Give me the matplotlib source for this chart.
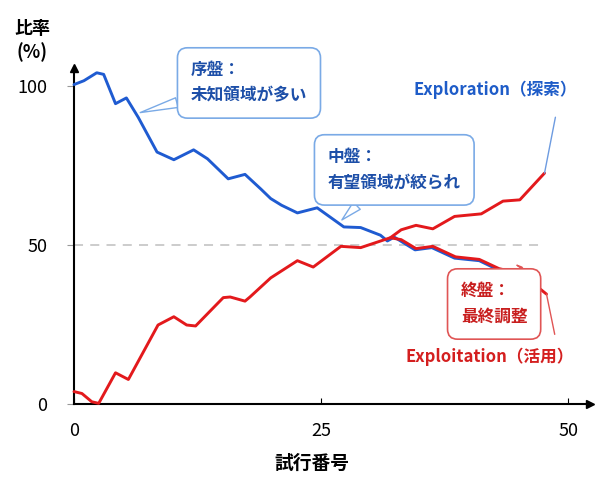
import numpy as np
import matplotlib
matplotlib.use("Agg")
import matplotlib.pyplot as plt

plt.rcParams['font.family'] = ['Noto Sans CJK JP', 'DejaVu Sans']

# Exploration (blue) - descending
explore_x = [0, 1, 2.3, 3, 4.2, 5.3, 6.5, 8.4, 10.1, 12.1, 13.5, 15.6, 17.3, 18.9, 19.9,
             21.0, 22.6, 24.6, 27.3, 29.0, 31.0, 31.7, 32.4, 34.5, 36.2, 38.5, 41.0, 43.0]
explore_y = [100.3, 101.5, 104.0, 103.5, 94.3, 96.1, 90.0, 79.1, 76.7, 79.8, 77.0, 70.7, 72.1, 67.5, 64.5,
             62.4, 60.0, 61.6, 55.6, 55.4, 53.0, 51.2, 52.4, 48.4, 49.1, 45.8, 45.0, 42.0]

# Exploitation (red) - ascending
exploit_x = [0, 0.8, 1.8, 2.5, 4.2, 5.5, 8.5, 10.1, 11.4, 12.3, 15.1, 15.8, 17.3, 17.8, 19.9,
             22.6, 24.2, 27.0, 29.0, 32.0, 33.1, 34.6, 36.3, 38.5, 41.2, 43.4, 45.1, 47.6]
exploit_y = [3.9, 3.3, 0.7, 0.2, 9.8, 7.7, 24.8, 27.4, 24.8, 24.5, 33.4, 33.6, 32.3, 33.6, 39.6,
             45.0, 43.0, 49.5, 49.1, 52.2, 54.7, 56.1, 55.0, 58.9, 59.7, 63.7, 64.1, 72.5]

# red trace drawn over the tail of the blue curve
tail_x = [32.0, 33.1, 34.6, 36.3, 38.6, 41.0, 43.0, 44.4, 46.0, 47.8]
tail_y = [52.2, 51.6, 48.8, 49.5, 46.2, 45.4, 42.5, 41.5, 39.0, 34.5]

xticks = [0, 25, 50]
yticks = [0, 50, 100]

BLUE = '#1f5bd1'
RED = '#e3191c'

fig = plt.figure(figsize=(5.97, 4.78), dpi=100)
ax = fig.add_axes([74 / 597, 74 / 478, 516 / 597, 336 / 478])
ax.set_xlim(0, 52.2)
ax.set_ylim(0, 105.5)

ax.hlines(50, 0, 47.5, colors='#c8c8c8', linestyles=(0, (5, 4)), lw=1.3, zorder=1)

line_kw = dict(lw=2.1, zorder=3, clip_on=False, solid_joinstyle='round', solid_capstyle='round')
ax.plot(explore_x, explore_y, color=BLUE, **line_kw)
ax.plot(exploit_x, exploit_y, color=RED, **line_kw)
ax.plot(tail_x, tail_y, color=RED, **line_kw)

for s in ['top', 'right']:
    ax.spines[s].set_visible(False)
for s in ['left', 'bottom']:
    ax.spines[s].set_linewidth(1.5)
ax.plot(1, 0, '>', color='k', ms=6, transform=ax.transAxes, clip_on=False)
ax.plot(0, 1, '^', color='k', ms=6, transform=ax.transAxes, clip_on=False)

ax.set_xticks(xticks)
ax.set_yticks(yticks)
ax.tick_params(axis='x', direction='in', length=4, pad=13, labelsize=13)
ax.tick_params(axis='y', direction='out', length=5, pad=14, labelsize=13, color='#999999')

fig.text(312 / 597, 1 - 463 / 478, '試行番号', ha='center', va='center',
         fontsize=13.5, fontweight='bold')
fig.text(32 / 597, 1 - 28 / 478, '比率', ha='center', va='center',
         fontsize=13, fontweight='bold')
fig.text(32 / 597, 1 - 52 / 478, '(%)', ha='center', va='center',
         fontsize=13, fontweight='bold')

# callout boxes
callouts = [
    ('序盤：\n未知領域が多い', (17.7, 100.8), (6.7, 91.5), '#7aaae6', '#1d4fa8'),
    ('中盤：\n有望領域が絞られ', (32.4, 73.5), (27.1, 57.8), '#7aaae6', '#1d4fa8'),
    ('終盤：\n最終調整', (42.5, 31.4), (45.3, 43.0), '#e05555', '#c81e1e'),
]
for txt, pos, tip, ec, tc in callouts:
    ax.annotate(txt, xy=tip, xytext=pos, ha='center', va='center', multialignment='left',
                fontsize=12, fontweight='bold', color=tc, linespacing=1.55, zorder=5,
                bbox=dict(boxstyle='round,pad=0.8,rounding_size=0.6', fc='white', ec=ec, lw=1.2),
                arrowprops=dict(arrowstyle='wedge,tail_width=0.6', fc='white', ec=ec, lw=1.0,
                                shrinkA=0, shrinkB=0))

# series labels with leader lines
ax.annotate('Exploration（探索）', xy=(exploit_x[-1], exploit_y[-1]), xytext=(42.6, 98.5),
            ha='center', va='center', fontsize=12, fontweight='bold', color='#1e5cc8',
            annotation_clip=False,
            arrowprops=dict(arrowstyle='-', color='#6d9be0', lw=1.0, relpos=(0.89, 0),
                            shrinkA=11, shrinkB=0))
ax.annotate('Exploitation（活用）', xy=(tail_x[-1], tail_y[-1]), xytext=(42.1, 14.7),
            ha='center', va='center', fontsize=12, fontweight='bold', color='#d41f1f',
            annotation_clip=False,
            arrowprops=dict(arrowstyle='-', color='#e05555', lw=1.0, relpos=(0.9, 1),
                            shrinkA=8, shrinkB=0))

fig.savefig('out.png', dpi=100, facecolor='white')
